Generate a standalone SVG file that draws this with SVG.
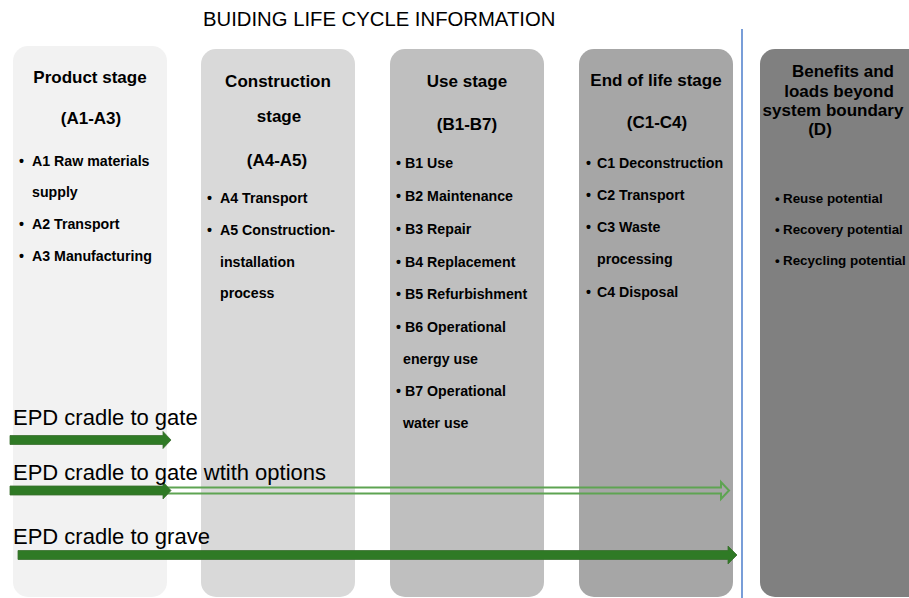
<svg xmlns="http://www.w3.org/2000/svg" width="909" height="598" viewBox="0 0 909 598">
<style>
  text { font-family: "Liberation Sans", Arial, sans-serif; fill: #000; }
  .title { font-size: 20.3px; }
  .h { font-size: 17px; font-weight: bold; text-anchor: middle; }
  .it { font-size: 14.2px; font-weight: bold; }
  .it5 { font-size: 13.4px; font-weight: bold; }
  .epd { font-size: 22px; }
  .dark { fill: #2f7a25; stroke: #3a6f2e; stroke-width: 0.8; }
  .light { fill: none; stroke: #5ea452; stroke-width: 2; stroke-linejoin: miter; }
</style>
<rect width="909" height="598" fill="#ffffff"/>
<text class="title" x="203" y="26">BUIDING LIFE CYCLE INFORMATION</text>

<g id="product-stage">
  <rect x="13" y="46" width="154" height="551" rx="15" fill="#f2f2f2"/>
  <text class="h" x="90" y="83">Product stage</text>
  <text class="h" x="91" y="124">(A1-A3)</text>
  <text class="it" x="19" y="166">•</text>
  <text class="it" x="32" y="166">A1 Raw materials</text>
  <text class="it" x="32" y="197">supply</text>
  <text class="it" x="19" y="229">•</text>
  <text class="it" x="32" y="229">A2 Transport</text>
  <text class="it" x="19" y="261">•</text>
  <text class="it" x="32" y="261">A3 Manufacturing</text>
</g>

<g id="construction-stage">
  <rect x="201" y="49" width="154" height="548" rx="15" fill="#d9d9d9"/>
  <text class="h" x="278" y="87">Construction</text>
  <text class="h" x="279" y="122">stage</text>
  <text class="h" x="277" y="166">(A4-A5)</text>
  <text class="it" x="207" y="203">•</text>
  <text class="it" x="220" y="203">A4 Transport</text>
  <text class="it" x="207" y="235">•</text>
  <text class="it" x="220" y="235">A5 Construction-</text>
  <text class="it" x="220" y="267">installation</text>
  <text class="it" x="220" y="298">process</text>
</g>

<g id="use-stage">
  <rect x="390" y="49" width="154" height="548" rx="15" fill="#bfbfbf"/>
  <text class="h" x="467" y="87">Use stage</text>
  <text class="h" x="467" y="130">(B1-B7)</text>
  <text class="it" x="396" y="168">•</text><text class="it" x="405" y="168">B1 Use</text>
  <text class="it" x="396" y="201">•</text><text class="it" x="405" y="201">B2 Maintenance</text>
  <text class="it" x="396" y="234">•</text><text class="it" x="405" y="234">B3 Repair</text>
  <text class="it" x="396" y="267">•</text><text class="it" x="405" y="267">B4 Replacement</text>
  <text class="it" x="396" y="299">•</text><text class="it" x="405" y="299">B5 Refurbishment</text>
  <text class="it" x="396" y="332">•</text><text class="it" x="405" y="332">B6 Operational</text>
  <text class="it" x="403" y="364">energy use</text>
  <text class="it" x="396" y="396">•</text><text class="it" x="405" y="396">B7 Operational</text>
  <text class="it" x="403" y="428">water use</text>
</g>

<g id="end-of-life-stage">
  <rect x="579" y="49" width="154" height="548" rx="15" fill="#a6a6a6"/>
  <text class="h" x="656" y="86">End of life stage</text>
  <text class="h" x="657" y="128">(C1-C4)</text>
  <text class="it" x="586" y="168">•</text><text class="it" x="597" y="168">C1 Deconstruction</text>
  <text class="it" x="586" y="200">•</text><text class="it" x="597" y="200">C2 Transport</text>
  <text class="it" x="586" y="232">•</text><text class="it" x="597" y="232">C3 Waste</text>
  <text class="it" x="597" y="264">processing</text>
  <text class="it" x="586" y="297">•</text><text class="it" x="597" y="297">C4 Disposal</text>
</g>

<g id="boundary">
  <line x1="742" y1="29" x2="742" y2="598" stroke="#3f74c8" stroke-width="1.4"/>
</g>

<g id="beyond-boundary">
  <rect x="760" y="49" width="200" height="548" rx="15" fill="#808080"/>
  <text class="h" x="843" y="77">Benefits and</text>
  <text class="h" x="839" y="97">loads beyond</text>
  <text class="h" x="833" y="116">system boundary</text>
  <text class="h" x="820" y="135">(D)</text>
  <text class="it5" x="775" y="203">•</text><text class="it5" x="783" y="203">Reuse potential</text>
  <text class="it5" x="775" y="234">•</text><text class="it5" x="783" y="234">Recovery potential</text>
  <text class="it5" x="775" y="265">•</text><text class="it5" x="783" y="265">Recycling potential</text>
</g>

<g id="connectors">
  <path class="light" d="M10,487.5 H721 V482 L729,490.5 L721,499 V493.5 H10"/>
  <path class="dark" d="M10,435.5 H163 V431.5 L171,440 L163,448.5 V444.5 H10 Z"/>
  <path class="dark" d="M10,486 H163 V482 L171,490.5 L163,499 V495 H10 Z"/>
  <path class="dark" d="M18,550.5 H728 V546 L737,555 L728,564 V559.5 H18 Z"/>
</g>

<g id="labels">
  <text class="epd" x="13" y="425">EPD cradle to gate</text>
  <text class="epd" x="13" y="480">EPD cradle to gate wtith options</text>
  <text class="epd" x="13" y="544">EPD cradle to grave</text>
</g>
</svg>
